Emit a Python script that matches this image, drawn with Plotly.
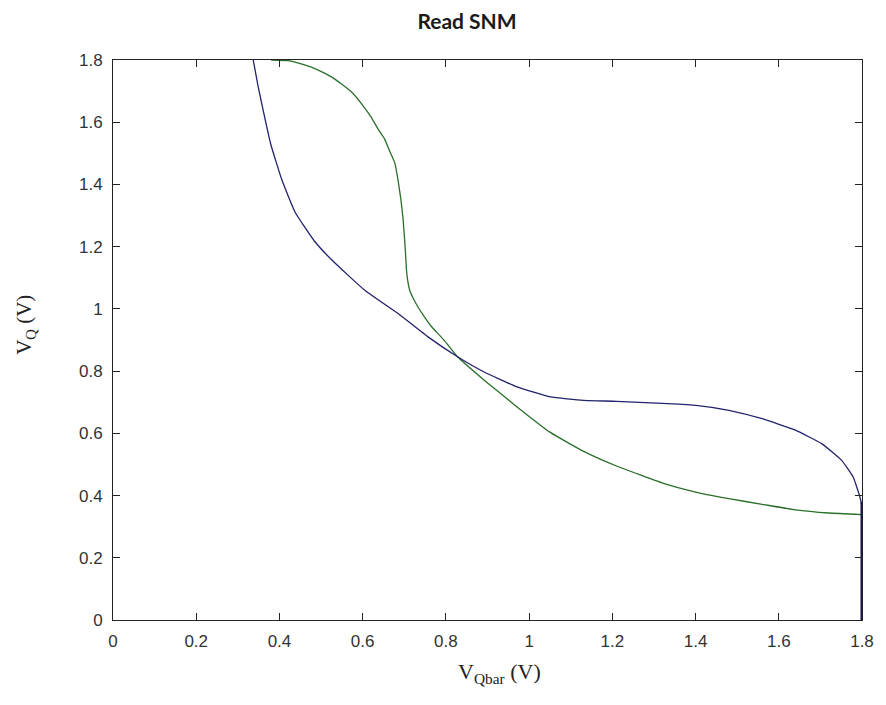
import plotly.graph_objects as go

# Blue curve (V_Q vs V_Qbar)
blue_x = [0.337, 0.348, 0.359, 0.379, 0.406, 0.438, 0.486, 0.526, 0.605, 0.685, 0.757, 0.828,
          0.892, 0.971, 1.051, 1.131, 1.21, 1.321, 1.401, 1.48, 1.56, 1.64, 1.703, 1.751,
          1.779, 1.795, 1.799, 1.8, 1.8]
blue_y = [1.80, 1.72, 1.65, 1.53, 1.414, 1.31, 1.215, 1.157, 1.06, 0.985, 0.91, 0.846,
          0.797, 0.749, 0.717, 0.706, 0.703, 0.696, 0.69, 0.674, 0.647, 0.61, 0.567, 0.513,
          0.459, 0.395, 0.37, 0.2, 0.0]
# Blue vertical tail at V_Qbar = 1.8 (drawn heavier in the reference)
tail_x = [1.8, 1.8]
tail_y = [0.38, 0.0]

# Green curve
green_x = [0.38, 0.42, 0.446, 0.475, 0.502, 0.526, 0.55, 0.575, 0.597, 0.62, 0.637, 0.652,
           0.664, 0.677, 0.685, 0.692, 0.697, 0.702, 0.706, 0.713, 0.723, 0.733, 0.748,
           0.764, 0.796, 0.828, 0.892, 0.971, 1.051, 1.131, 1.21, 1.321, 1.40, 1.48, 1.56,
           1.64, 1.72, 1.8]
green_y = [1.80, 1.798, 1.79, 1.778, 1.762, 1.745, 1.722, 1.695, 1.66, 1.617, 1.578, 1.548,
           1.51, 1.47, 1.414, 1.35, 1.29, 1.20, 1.114, 1.06, 1.03, 1.006, 0.975,
           0.945, 0.899, 0.846, 0.771, 0.685, 0.603, 0.542, 0.495, 0.44, 0.411, 0.39, 0.372,
           0.354, 0.344, 0.339]

tick_vals = [0, 0.2, 0.4, 0.6, 0.8, 1.0, 1.2, 1.4, 1.6, 1.8]
tick_text = ["0", "0.2", "0.4", "0.6", "0.8", "1", "1.2", "1.4", "1.6", "1.8"]

BLUE = "#22226e"
GREEN = "#2a6f2a"

fig = go.Figure()
fig.add_trace(go.Scatter(x=green_x, y=green_y, mode="lines",
                         line=dict(color=GREEN, width=1.3, shape="spline", smoothing=0.4),
                         showlegend=False, cliponaxis=False))
fig.add_trace(go.Scatter(x=blue_x, y=blue_y, mode="lines",
                         line=dict(color=BLUE, width=1.3, shape="spline", smoothing=0.4),
                         showlegend=False, cliponaxis=False))
fig.add_trace(go.Scatter(x=tail_x, y=tail_y, mode="lines",
                         line=dict(color="#15154f", width=3), showlegend=False,
                         cliponaxis=False))

axis_common = dict(
    range=[0, 1.8], tickvals=tick_vals, ticktext=tick_text,
    showgrid=False, zeroline=False, showline=True, linecolor="#222222", linewidth=1,
    mirror="ticks", ticks="inside", ticklen=7, tickcolor="#222222", tickwidth=1,
    tickfont=dict(family="Liberation Sans", size=17, color="#333333"),
    ticklabelstandoff=6,
)

fig.update_layout(
    width=886, height=705,
    margin=dict(l=113, r=19, t=60, b=85),
    paper_bgcolor="white", plot_bgcolor="white",
    xaxis=axis_common,
    yaxis=axis_common,
    title=dict(text="<b>Read SNM</b>", x=467 / 886, xanchor="center",
               y=1 - 22 / 705, yanchor="middle",
               font=dict(family="Lato, Open Sans, sans-serif", size=21, color="#1a1a1a")),
    annotations=[
        dict(text="V<sub>Qbar</sub> (V)", xref="paper", yref="paper",
             x=(502 - 113) / 754, y=(619.5 - 672) / 559.5, xanchor="center", yanchor="middle",
             showarrow=False,
             font=dict(family="Liberation Serif, Times New Roman", size=22, color="#222222")),
        dict(text="V<sub>Q</sub> (V)", xref="paper", yref="paper",
             x=(25 - 113) / 754, y=(619.5 - 325) / 559.5, xanchor="center", yanchor="middle",
             textangle=-90, showarrow=False,
             font=dict(family="Liberation Serif, Times New Roman", size=21, color="#222222")),
    ],
)

fig.write_html("out.html")
